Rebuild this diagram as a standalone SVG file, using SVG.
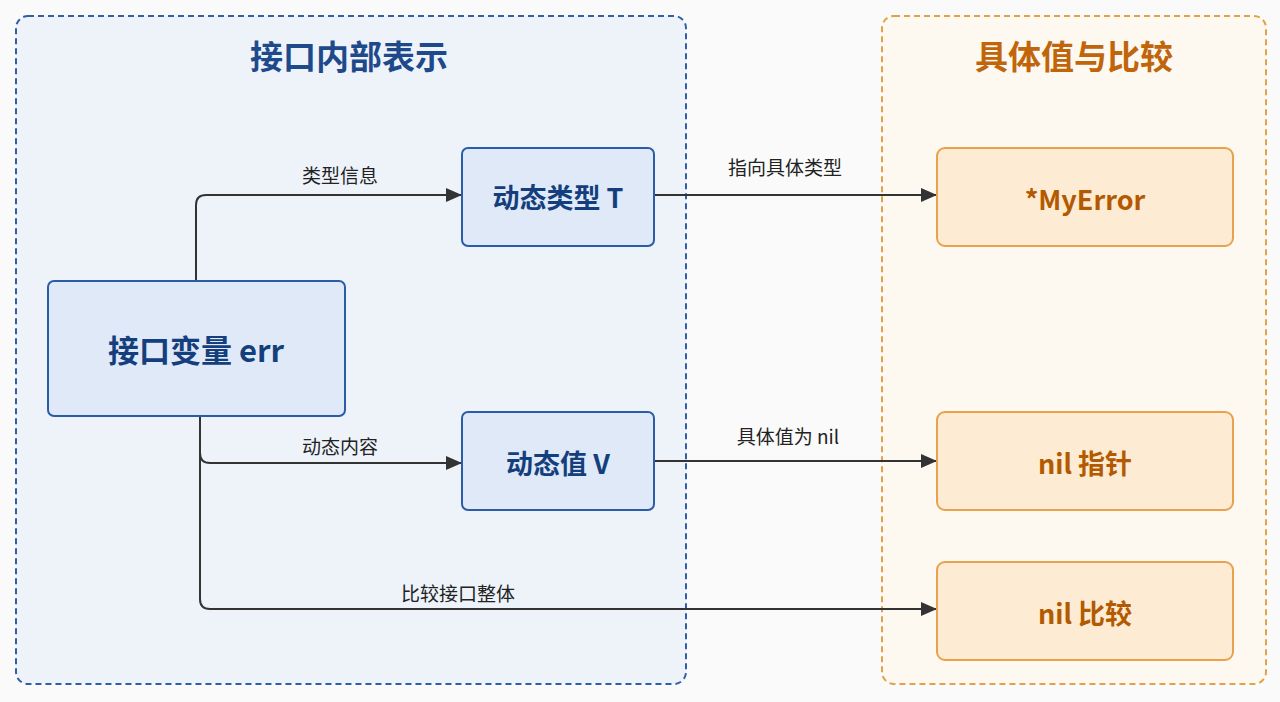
<svg xmlns="http://www.w3.org/2000/svg" width="1280" height="702" viewBox="0 0 1280 702">
<style>
text{font-family:"Noto Sans CJK SC","Noto Sans",sans-serif;text-anchor:middle}
.bn rect{fill:#dfe9f7;stroke:#2a5ca8;stroke-width:2}
.bn text{fill:#143f7c;font-weight:bold}
.on rect{fill:#fdebd4;stroke:#e8a24e;stroke-width:2}
.on text{fill:#b35a00;font-weight:bold;font-size:27px}
.c path{fill:none;stroke:#333;stroke-width:2;marker-end:url(#a)}
.lbl{font-size:19px;fill:#222}
</style>
<defs><marker id="a" markerWidth="16" markerHeight="14" refX="16" refY="7" orient="auto" markerUnits="userSpaceOnUse"><path d="M0,0 L16,7 L0,14 z" fill="#333"/></marker></defs>
<rect width="1280" height="702" fill="#fafafa"/>
<g id="left-group"><rect x="16" y="16" width="670" height="668" rx="12" fill="#eef3fa" stroke="#2f5fa8" stroke-width="2" stroke-dasharray="6,4"/>
<text x="349" y="69" font-size="33" font-weight="bold" fill="#1e4a8c">接口内部表示</text></g>
<g id="right-group"><rect x="882" y="16" width="384" height="668" rx="12" fill="#fdf8f0" stroke="#e3a248" stroke-width="2" stroke-dasharray="6,4"/>
<text x="1074" y="69" font-size="33" font-weight="bold" fill="#c0650a">具体值与比较</text></g>
<g class="c" id="connectors">
<path d="M196 281 V205 Q196 195 206 195 H462"/>
<path d="M200 416 V453 Q200 463 210 463 H462"/>
<path d="M200 416 V599 Q200 609 210 609 H937"/>
<path d="M654 195 H937"/>
<path d="M654 461 H937"/>
<text class="lbl" x="340" y="183">类型信息</text>
<text class="lbl" x="340" y="454">动态内容</text>
<text class="lbl" x="458" y="601">比较接口整体</text>
<text class="lbl" x="785" y="175">指向具体类型</text>
<text class="lbl" x="788" y="444">具体值为 nil</text>
</g>
<g class="bn" id="err"><rect x="48" y="281" width="297" height="135" rx="6"/><text x="196" y="362" font-size="31">接口变量 err</text></g>
<g class="bn" id="type"><rect x="462" y="148" width="192" height="98" rx="6"/><text x="558" y="208" font-size="27">动态类型 T</text></g>
<g class="bn" id="value"><rect x="462" y="412" width="192" height="98" rx="6"/><text x="558" y="474" font-size="27">动态值 V</text></g>
<g class="on" id="myerror"><rect x="937" y="148" width="296" height="98" rx="8"/><text x="1085" y="210">*MyError</text></g>
<g class="on" id="nilptr"><rect x="937" y="412" width="296" height="98" rx="8"/><text x="1085" y="474">nil 指针</text></g>
<g class="on" id="nilcmp"><rect x="937" y="562" width="296" height="98" rx="8"/><text x="1085" y="624">nil 比较</text></g>
</svg>
